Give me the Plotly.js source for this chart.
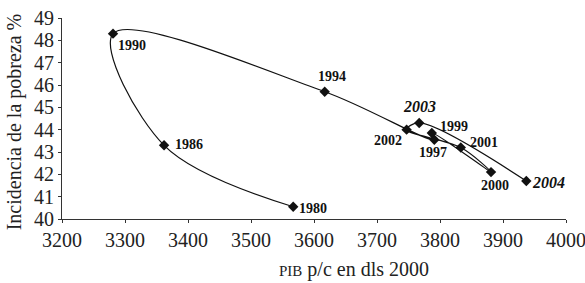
<!DOCTYPE html>
<html>
<head>
<meta charset="utf-8">
<script src="https://cdn.plot.ly/plotly-3.0.1.min.js"></script>
<style>html,body{margin:0;padding:0;background:#fff;}#chart{width:585px;height:283px;}</style>
</head>
<body>
<div id="chart"></div>
<script>
// Data
const years   = ['1980','1986','1990','1994','1997','1999','2000','2001','2002','2003','2004'];
const pib     = [3567, 3362, 3281, 3617, 3791, 3787, 3881, 3833, 3747, 3767, 3937];
const pobreza = [40.55, 43.3, 48.3, 45.7, 43.55, 43.85, 42.1, 43.2, 44.0, 44.3, 41.7];
const emphasized = ['2003','2004'];
const xTicks = [3200,3300,3400,3500,3600,3700,3800,3900,4000];
const yTicks = [40,41,42,43,44,45,46,47,48,49];
const xTitle = '<span style="font-size:15px">PIB</span> p/c en dls 2000';
const yTitle = 'Incidencia de la pobreza %';

// label placement (style only): [xanchor, xshift, yshift]
const labelPlacement = {
  '1980': ['left', 4, -2],
  '1986': ['left', 9, 1],
  '1990': ['left', 3, -12],
  '1994': ['center', 7, 15],
  '1997': ['center', -1, -13],
  '1999': ['left', 6, 7],
  '2000': ['center', 4, -13],
  '2001': ['left', 7, 5],
  '2002': ['right', -3, -11],
  '2003': ['center', 0, 16],
  '2004': ['left', 4, -1]
};

const serif = 'Liberation Serif, Times New Roman, serif';

const trace = {
  x: pib, y: pobreza, mode: 'lines+markers', type: 'scatter',
  line: {color: '#111', width: 1.2, shape: 'spline', smoothing: 1},
  marker: {symbol: 'diamond', size: 8, color: '#111'},
  hoverinfo: 'none'
};

const annotations = years.map((yr, i) => {
  const p = labelPlacement[yr];
  const emph = emphasized.includes(yr);
  return {
    x: pib[i], y: pobreza[i], xref: 'x', yref: 'y',
    text: emph ? '<b><i>' + yr + '</i></b>' : '<b>' + yr + '</b>',
    showarrow: false, xanchor: p[0], yanchor: 'middle',
    xshift: p[1], yshift: p[2],
    font: {family: serif, size: emph ? 16 : 14, color: '#111'}
  };
});

// axis titles (placed as paper annotations to match the reference's offset positions)
annotations.push({
  text: xTitle, xref: 'paper', yref: 'paper', x: 0.580, y: -0.249,
  xanchor: 'center', yanchor: 'middle', showarrow: false,
  font: {family: serif, size: 20, color: '#222'}
});
annotations.push({
  text: yTitle, xref: 'paper', yref: 'paper', x: -0.0952, y: 0.481,
  xanchor: 'center', yanchor: 'middle', showarrow: false, textangle: -90,
  font: {family: serif, size: 20, color: '#222'}
});

const layout = {
  width: 585, height: 283,
  margin: {l: 62, r: 19, t: 18, b: 64},
  paper_bgcolor: '#fff', plot_bgcolor: '#fff',
  showlegend: false,
  font: {family: serif, color: '#222'},
  xaxis: {
    range: [3200, 4000], tickvals: xTicks, ticktext: xTicks.map(String),
    showgrid: false, zeroline: false, showline: true, linecolor: '#333', linewidth: 1,
    ticks: 'outside', ticklen: 3, tickcolor: '#333', ticklabeloverflow: 'allow',
    tickfont: {family: serif, size: 20, color: '#222'}
  },
  yaxis: {
    range: [40, 49], tickvals: yTicks, ticktext: yTicks.map(String),
    showgrid: false, zeroline: false, showline: true, linecolor: '#333', linewidth: 1,
    ticks: 'outside', ticklen: 3, tickcolor: '#333', ticklabeloverflow: 'allow',
    tickfont: {family: serif, size: 20, color: '#222'}
  },
  annotations: annotations
};

Plotly.newPlot('chart', [trace], layout, {displayModeBar: false, staticPlot: true});
</script>
</body>
</html>
